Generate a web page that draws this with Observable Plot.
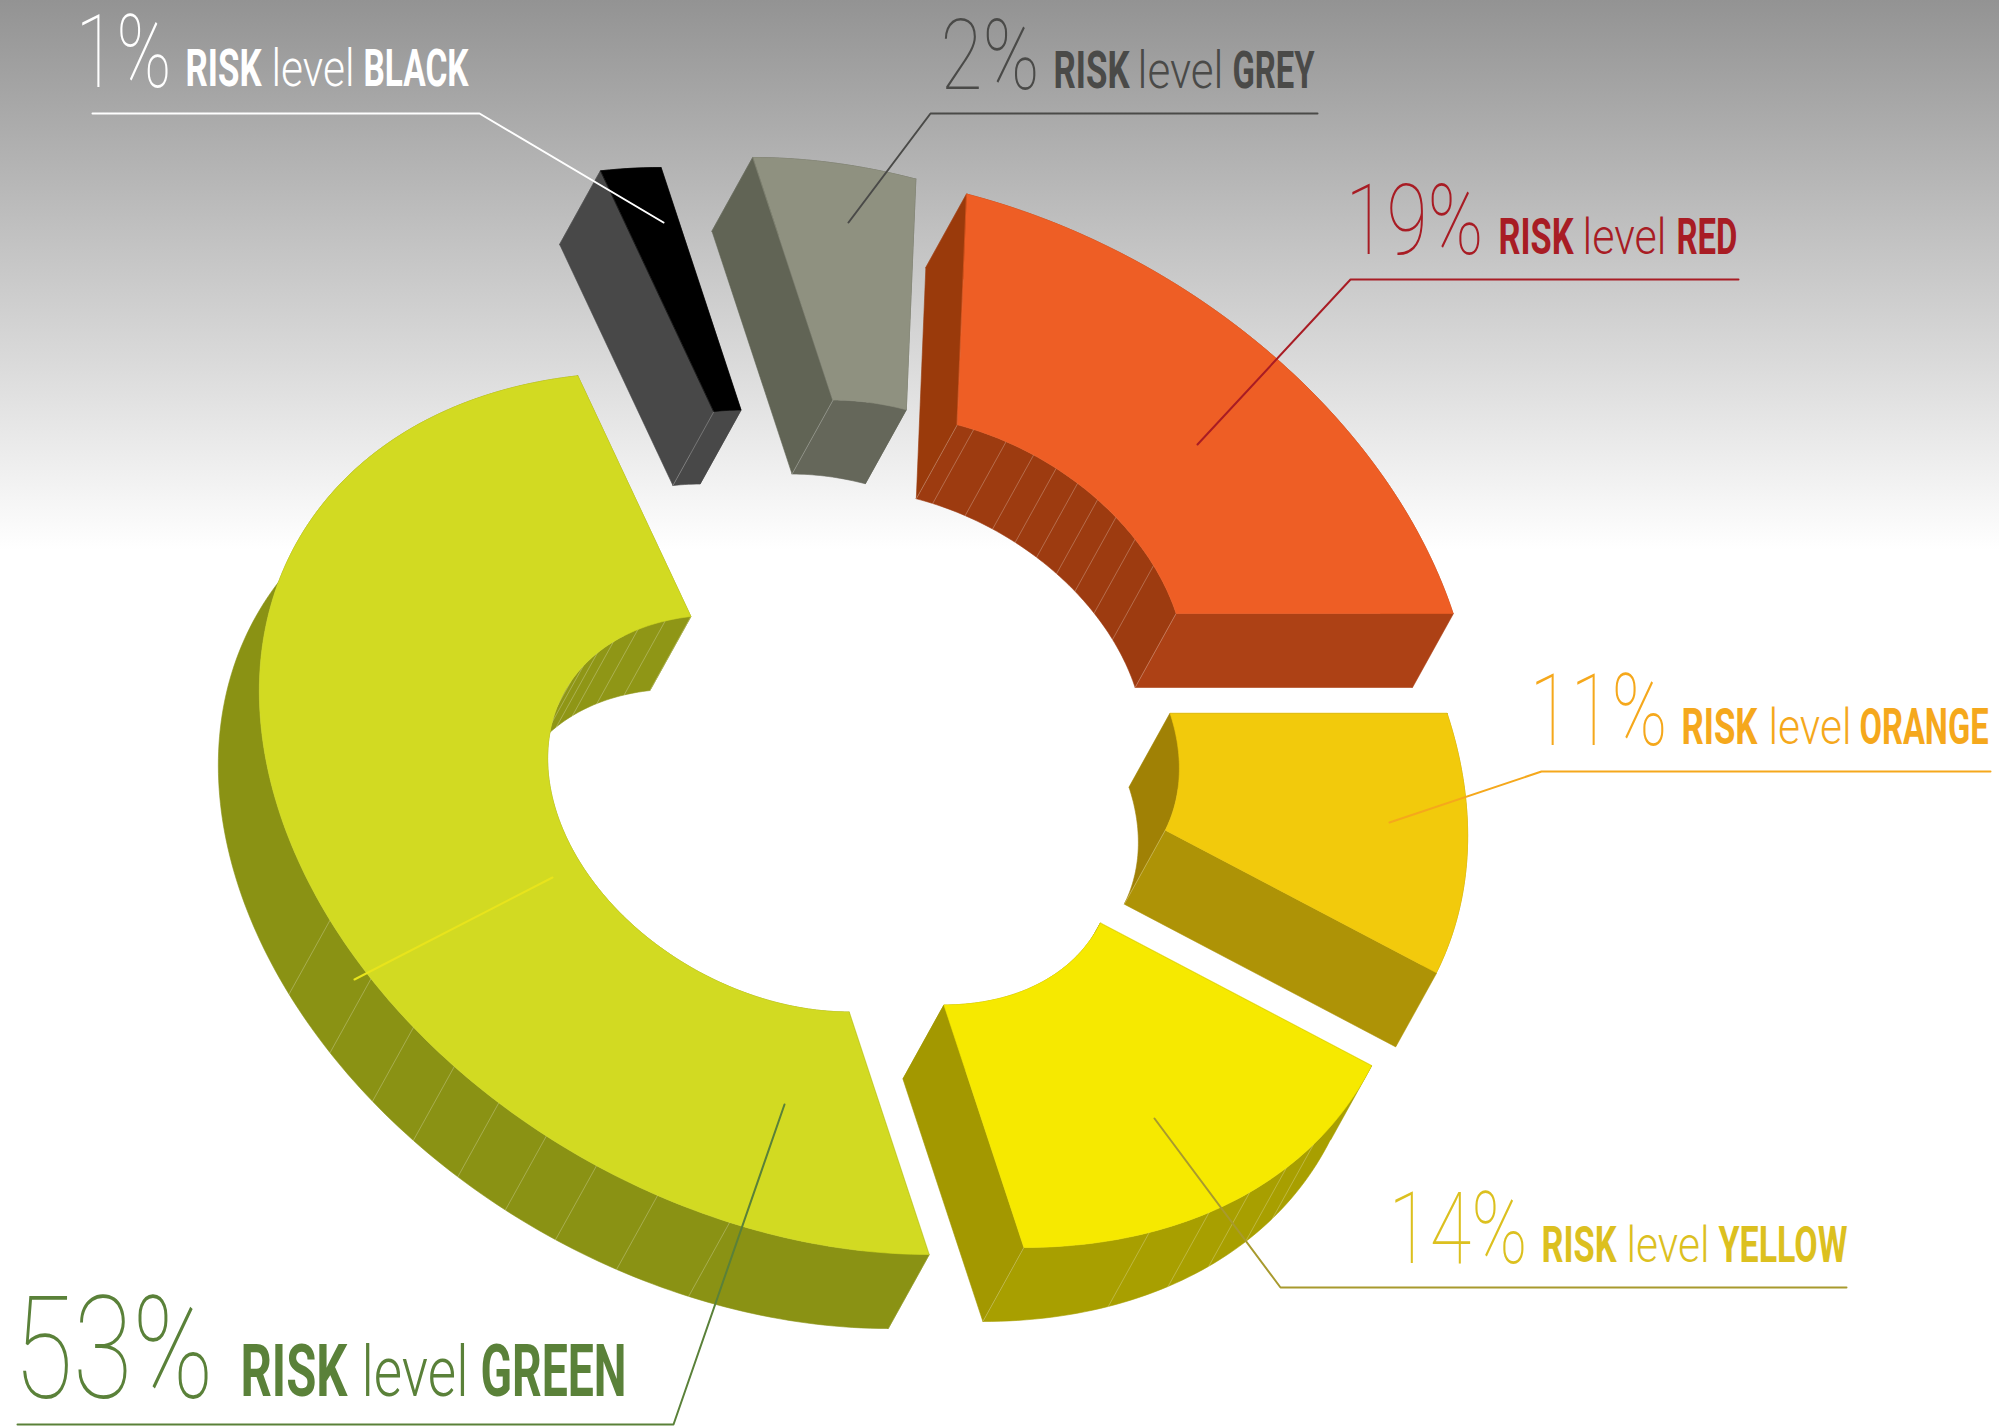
<!DOCTYPE html>
<html>
<head>
<meta charset="utf-8">
<style>html,body{margin:0;padding:0;background:#fff}svg{display:block}</style>
<script src="https://cdn.jsdelivr.net/npm/d3@7"></script>
<script src="https://cdn.jsdelivr.net/npm/@observablehq/plot@0.6"></script>
</head>
<body>
<script>
const levels = ["BLACK","GREY","RED","ORANGE","YELLOW","GREEN"];
const shares = [1,2,19,11,14,53];
// angular extent of each slice (degrees, clockwise on the disc)
const startDeg = [263,270,288,360,36,90];
const endDeg   = [270,288,360,396,90,263];
// exploded centre of each slice
const centreX = [806,898,949,943,878,783];
const centreY = [608,598,613,713,806,813];
const outerSeams = [[],[],[],[],[75,67,61,55,50,90],[112,120,127,133,139,145,151,158,166]];
const innerSeams = [[263],[270],[288,292,300,307,313,319,325,331,338,346,360],[396],[],[256,248,240,234,228,222,263]];
const topColor   = ["#000000","#8f9180","#ee5e25","#f2ca0c","#f6e900","#d2da22"];
const startCut   = ["#484848","#616455","#9a3a0b","#ad9305","#a39800","#8a9214"];
const endCut     = ["#484848","#616455","#ad4115","#ae9306","#a39800","#8a9214"];
const innerWall  = ["#484848","#65675a","#9d3b10","#a08105","#a39800","#8f9616"];
const outerWall  = ["#484848","#616455","#ad4115","#ae9306","#a89f00","#8a9214"];
const textColor  = ["#ffffff","#4a4a48","#a81c24","#f5a81c","#dcc01f","#5a8139"];
const lineColor  = ["#ffffff","#4a4a48","#a81c24","#f5a81c","#a89a2e","#5a8139"];

const pctX0 = [75,940,1345,1529,1388,13],  pctX1 = [171,1039,1483,1667,1527,213];
const pctBase = [86,88,253,744,1262,1397], pctTop = [14,18,183,673,1191,1296];
const riskX0 = [185,1053,1498,1681,1541,240], riskX1 = [261,1129,1573,1757,1616,347];
const lvlX0 = [271,1137,1582,1768,1626,361],  lvlX1 = [354,1223,1666,1851,1709,468];
const nameX0 = [363,1232,1676,1859,1718,480], nameX1 = [468,1314,1737,1988,1847,626];
const wordBase = [85,87,253,743,1261,1395],   wordTop = [48,50,217,707,1225,1344];

const leaders = [
  [[92,113],[479,113],[663,222]],
  [[1317,113],[930,113],[848,222]],
  [[1738,279],[1350,279],[1197,444]],
  [[1990,771],[1541,771],[1389,822]],
  [[1846,1287],[1280,1287],[1154,1118]],
  [[17,1424],[673,1424],[784,1104]]
];
const extraLeader = [[552,877],[354,979]];

// disc geometry
const U = [503.6,0], V = [145.4,441], outerR = 1, innerR = 0.45, depth = [-41,74];
const dv = depth[1]/V[1], du = (depth[0]-dv*V[0])/U[0];
const pt = (i,r,deg) => {
  const t = deg*Math.PI/180, c = Math.cos(t)*r, s = Math.sin(t)*r;
  return [centreX[i]+c*U[0]+s*V[0], centreY[i]+c*U[1]+s*V[1]];
};
const down = p => [p[0]+depth[0], p[1]+depth[1]];
const arc = (i,r,a,b) => { const n=Math.max(2,Math.ceil(Math.abs(b-a))); return d3.range(n+1).map(k=>pt(i,r,a+(b-a)*k/n)); };

let id = 0;
const walls=[], tops=[], seams=[];
const add = (arr,pts,c) => { id++; pts.forEach(p=>arr.push({x:p[0],y:p[1],z:id,c})); };
levels.forEach((_,i)=>{
  const a=startDeg[i], b=endDeg[i];
  const out=arc(i,outerR,a,b), inn=arc(i,innerR,a,b);
  const ra=a*Math.PI/180, rb=b*Math.PI/180;
  const startVisible = Math.sin(ra)*du - Math.cos(ra)*dv > 0;
  const endVisible   = -Math.sin(rb)*du + Math.cos(rb)*dv > 0;
  const cut=(t,c)=>{const p=pt(i,outerR,t),q=pt(i,innerR,t);add(walls,[p,q,down(q),down(p)],c);};
  if(!startVisible) cut(a,startCut[i]);
  if(!endVisible) cut(b,endCut[i]);
  add(walls,[...out,...out.slice().reverse().map(down)],outerWall[i]);
  add(walls,[...inn,...inn.slice().reverse().map(down)],innerWall[i]);
  if(startVisible) cut(a,startCut[i]);
  if(endVisible) cut(b,endCut[i]);
  outerSeams[i].forEach(t=>{const p=pt(i,outerR,t);add(seams,[p,down(p)],"#fff");});
  innerSeams[i].forEach(t=>{const p=pt(i,innerR,t);add(seams,[p,down(p)],"#fff");});
  add(tops,[...out,...inn.slice().reverse()],topColor[i]);
});

const poly = rows => Plot.line(rows,{x:"x",y:"y",z:"z",fill:"c",stroke:"c",strokeWidth:0.6,curve:"linear-closed"});

const leaderRows = [];
leaders.forEach((l,i)=>l.forEach(p=>leaderRows.push({x:p[0],y:p[1],k:i,c:lineColor[i]})));
extraLeader.forEach(p=>leaderRows.push({x:p[0],y:p[1],k:6,c:"#e8e41c"}));

const pctRuns = levels.map((_,i)=>({x:pctX0[i],y:pctBase[i],t:shares[i]+"%",len:pctX1[i]-pctX0[i],fs:(pctBase[i]-pctTop[i])/0.711,c:textColor[i]}));
const boldRuns = levels.flatMap((n,i)=>[
  {x:riskX0[i],y:wordBase[i],t:"RISK",len:riskX1[i]-riskX0[i],fs:(wordBase[i]-wordTop[i])/0.711,c:textColor[i]},
  {x:nameX0[i],y:wordBase[i],t:n,len:nameX1[i]-nameX0[i],fs:(wordBase[i]-wordTop[i])/0.711,c:textColor[i]}
]);
const lightRuns = levels.map((_,i)=>({x:lvlX0[i],y:wordBase[i],t:"level",len:lvlX1[i]-lvlX0[i],fs:(wordBase[i]-wordTop[i])/0.72,c:textColor[i]}));
const textMark = (rows,weight) => Plot.text(rows,{x:"x",y:"y",text:"t",fontSize:"fs",fill:"c",fontWeight:weight,fontFamily:"Roboto",textAnchor:"start",lineAnchor:"bottom"});

const chart = Plot.plot({
  width:1999, height:1426, margin:0,
  x:{domain:[0,1999],range:[0,1999],axis:null},
  y:{domain:[0,1426],range:[0,1426],axis:null},
  color:{type:"identity"},
  style:{background:"linear-gradient(to bottom,#939393 0,#ffffff 550px)"},
  marks:[
    poly(walls),
    Plot.line(seams,{x:"x",y:"y",z:"z",stroke:"#fff",strokeOpacity:0.25,strokeWidth:1}),
    poly(tops),
    Plot.line(leaderRows,{x:"x",y:"y",z:"k",stroke:"c",strokeWidth:2}),
    textMark(pctRuns,100),
    textMark(boldRuns,700),
    textMark(lightRuns,300)
  ]
});
document.body.appendChild(chart);
// narrow the real text horizontally to the width it has in the reference
const all=[...pctRuns,...boldRuns,...lightRuns];
const nodes=[...chart.querySelectorAll('g[aria-label="text"] text')];
nodes.forEach((n,k)=>{
  if(!all[k]) return;
  const sx = all[k].len / n.getComputedTextLength();
  const tr = n.getAttribute("transform") || "";
  const x = n.getAttribute("x"), y = n.getAttribute("y");
  if (x !== null && y !== null) n.setAttribute("transform", `${tr} translate(${x},${y}) scale(${sx},1) translate(${-x},${-y})`);
  else n.setAttribute("transform", `${tr} scale(${sx},1)`);
});
</script>
</body>
</html>
